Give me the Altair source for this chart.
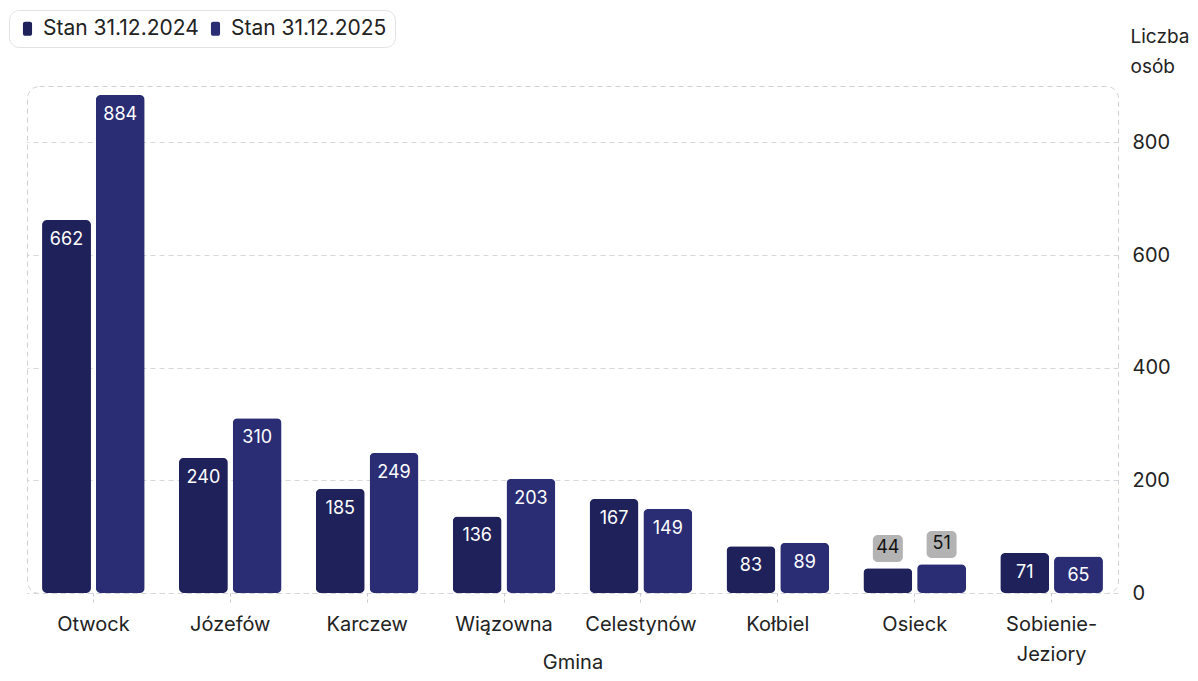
import altair as alt
import pandas as pd

gminy = ["Otwock", "Józefów", "Karczew", "Wiązowna", "Celestynów", "Kołbiel", "Osieck", "Sobienie-Jeziory"]
stan_2024 = [662, 240, 185, 136, 167, 83, 44, 71]
stan_2025 = [884, 310, 249, 203, 149, 89, 51, 65]
series = ["Stan 31.12.2024", "Stan 31.12.2025"]
colors = ["#1f225a", "#2a2d73"]

rows = []
for g, a, b in zip(gminy, stan_2024, stan_2025):
    rows.append({"Gmina": g, "Seria": series[0], "Wartosc": a})
    rows.append({"Gmina": g, "Seria": series[1], "Wartosc": b})
df = pd.DataFrame(rows)

FONT = "Inter"
TH = 60
FS = 20

x = alt.X("Gmina:N", sort=gminy, title="Gmina",
          scale=alt.Scale(paddingInner=0.25, paddingOuter=0.11),
          axis=alt.Axis(labelAngle=0, labelFontSize=FS, labelColor="#222", labelFont=FONT,
                        labelPadding=11, labelLineHeight=30, labelBaseline="top",
                        labelExpr="indexof(datum.label,'-')>0 ? [slice(datum.label,0,indexof(datum.label,'-')+1), slice(datum.label,indexof(datum.label,'-')+1)] : datum.label",
                        domain=False, ticks=True, tickSize=10, tickColor="#c8c8cc", tickDash=[3, 3],
                        titleFontSize=FS, titleFontWeight="normal", titleColor="#222", titleFont=FONT,
                        titleY=75, titleBaseline="alphabetic"))
xo = alt.XOffset("Seria:N", sort=series, scale=alt.Scale(paddingInner=0.09))
y = alt.Y("Wartosc:Q", scale=alt.Scale(domain=[0, 900], nice=False),
          axis=alt.Axis(orient="right", values=[0, 200, 400, 600, 800], domain=False, ticks=False,
                        labelPadding=14, labelFontSize=FS, labelColor="#222", labelFont=FONT,
                        grid=True, gridColor="#d6d6dc", gridDash=[5, 4],
                        title=["Liczba", "osób"], titleAngle=0, titleAlign="left", titleBaseline="top",
                        titleX=12, titleY=-59, titleFontSize=19, titleFontWeight="normal",
                        titleColor="#222", titleFont=FONT, titleLineHeight=30))

color = alt.Color("Seria:N", sort=series, scale=alt.Scale(domain=series, range=colors),
                  legend=alt.Legend(title=None, orient="none", direction="horizontal",
                                    legendX=-18, legendY=-76, labelFontSize=21, labelColor="#222",
                                    labelFont=FONT, symbolSize=196, symbolOpacity=1,
                                    symbolType="M-0.35,-1 H0.35 A0.3,0.3 0 0 1 0.65,-0.7 V0.7 A0.3,0.3 0 0 1 0.35,1 H-0.35 A0.3,0.3 0 0 1 -0.65,0.7 V-0.7 A0.3,0.3 0 0 1 -0.35,-1 Z",
                                    symbolStrokeWidth=0, labelOffset=5, columnPadding=6,
                                    padding=8, cornerRadius=10, strokeColor="#e2e2e2",
                                    fillColor="#ffffff"))

base = alt.Chart(df)

bars = base.mark_bar(cornerRadius=5).encode(x=x, xOffset=xo, y=y, color=color)

inside = base.transform_filter(f"datum.Wartosc >= {TH}").mark_text(
    color="white", fontSize=18, font=FONT, baseline="middle", dy=20
).encode(x=x, xOffset=xo, y=y, text="Wartosc:Q")

outside_bg = base.transform_filter(f"datum.Wartosc < {TH}").transform_calculate(
    y1="datum.Wartosc + 11", y2="datum.Wartosc + 59"
).mark_bar(color="#b3b3b3", cornerRadius=5, width=30).encode(
    x=x, xOffset=xo, y=alt.Y("y1:Q"), y2="y2:Q")

outside = base.transform_filter(f"datum.Wartosc < {TH}").mark_text(
    color="#111", fontSize=18, font=FONT, baseline="middle", dy=-20
).encode(x=x, xOffset=xo, y=y, text="Wartosc:Q")

chart = alt.layer(bars, inside, outside_bg, outside).properties(
    width=1091, height=507,
    autosize=alt.AutoSizeParams(type="none"),
    padding={"left": 19, "top": 78, "right": 72, "bottom": 80},
).configure(font=FONT).configure_view(
    stroke="#cfcfd4", strokeDash=[5, 4], cornerRadius=12, strokeWidth=1
)

chart.save("out.html", embed_options={"renderer": "svg", "actions": False})
